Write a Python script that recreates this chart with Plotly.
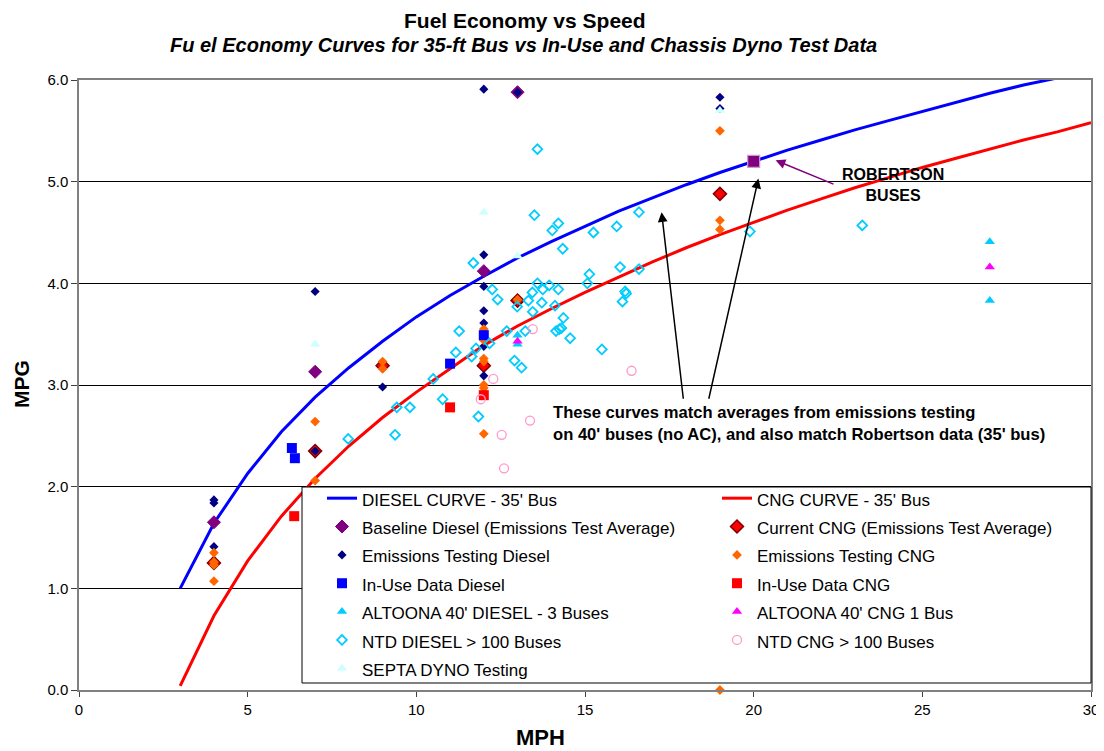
import plotly.graph_objects as go

# ---------------- data ----------------
CURVE_MPH = [3, 4, 5, 6, 7, 8, 9, 10, 11, 12, 13, 14, 15, 16, 17, 18, 19, 20,
             21, 22, 23, 24, 25, 26, 27, 28, 29, 30]
DIESEL_CURVE = [1.00, 1.64, 2.13, 2.54, 2.88, 3.17, 3.43, 3.67, 3.88, 4.07, 4.25,
                4.41, 4.56, 4.71, 4.84, 4.97, 5.09, 5.20, 5.31, 5.41, 5.51, 5.60,
                5.69, 5.78, 5.87, 5.95, 6.02, 6.10]
CNG_CURVE = [0.04, 0.73, 1.27, 1.71, 2.08, 2.40, 2.68, 2.93, 3.16, 3.39, 3.58,
             3.75, 3.91, 4.06, 4.21, 4.35, 4.48, 4.60, 4.72, 4.83, 4.94, 5.04,
             5.14, 5.23, 5.32, 5.41, 5.49, 5.58]

BASE_DSL_X = [4, 7, 12, 13]
BASE_DSL_Y = [1.65, 3.13, 4.12, 5.88]

CUR_CNG_X = [4, 7, 9, 12, 13, 19]
CUR_CNG_Y = [1.25, 2.35, 3.19, 3.19, 3.83, 4.88]

EM_DSL_X = [4, 4, 4, 7, 7, 9, 12, 12, 12, 12, 12, 12, 12, 13, 19, 19]
EM_DSL_Y = [1.87, 1.84, 1.41, 3.92, 2.35, 2.98, 5.91, 4.28, 3.97, 3.73, 3.61,
            3.38, 3.09, 5.88, 5.83, 5.72]

EM_CNG_X = [4, 4, 4, 4, 7, 7, 9, 9, 12, 12, 12, 12, 12, 12, 12, 13, 19, 19, 19, 19]
EM_CNG_Y = [1.35, 1.26, 1.23, 1.07, 2.64, 2.06, 3.23, 3.16, 3.55, 3.44, 3.26,
            3.23, 3.00, 2.97, 2.52, 3.84, 5.50, 4.62, 4.53, 0.00]

INUSE_DSL_X = [6.31, 6.40, 11.0, 12.0]
INUSE_DSL_Y = [2.38, 2.28, 3.21, 3.49]

INUSE_CNG_X = [6.38, 11.0, 12.0]
INUSE_CNG_Y = [1.71, 2.78, 2.90]

ALT_DSL_X = [13, 13, 27, 27]
ALT_DSL_Y = [3.49, 3.40, 4.41, 3.83]

ALT_CNG_X = [13, 27]
ALT_CNG_Y = [3.43, 4.16]

NTD_DSL_X = [7.98, 9.42, 9.37, 9.81, 10.50, 10.78, 11.17, 11.27, 11.64, 11.77,
             11.84, 11.69, 12.17, 12.25, 12.41, 12.68, 12.91, 12.99, 13.12, 13.23,
             13.32, 13.44, 13.45, 13.50, 13.59, 13.59, 13.72, 13.75, 13.94, 14.03,
             14.11, 14.14, 14.21, 14.21, 14.24, 14.30, 14.34, 14.36, 14.56, 15.07,
             15.13, 15.25, 15.50, 15.94, 16.04, 16.11, 16.19, 16.22, 16.60, 16.60,
             19.89, 23.22]
NTD_DSL_Y = [2.47, 2.78, 2.51, 2.78, 3.06, 2.86, 3.32, 3.53, 3.28, 3.36,
             2.69, 4.20, 3.41, 3.94, 3.84, 3.53, 3.24, 3.77, 3.17, 3.53,
             3.83, 3.91, 3.72, 4.67, 5.32, 4.00, 3.81, 3.94, 3.98, 4.52,
             3.78, 3.53, 4.59, 3.94, 3.55, 3.56, 4.34, 3.66, 3.46, 4.00,
             4.09, 4.50, 3.35, 4.56, 4.16, 3.82, 3.92, 3.90, 4.70, 4.14,
             4.51, 4.57]

NTD_CNG_X = [11.91, 12.28, 12.53, 12.60, 13.37, 13.45, 16.38]
NTD_CNG_Y = [2.86, 3.06, 2.51, 2.18, 2.65, 3.55, 3.14]

SEPTA_X = [7, 12, 13, 19]
SEPTA_Y = [3.40, 4.70, 4.27, 5.70]

ROBERTSON_X = [20]
ROBERTSON_Y = [5.20]

X_TICKS = [0, 5, 10, 15, 20, 25, 30]
Y_TICKS = [0, 1, 2, 3, 4, 5, 6]
Y_TICK_LABELS = ["0.0", "1.0", "2.0", "3.0", "4.0", "5.0", "6.0"]

FONT = "Arial, 'Liberation Sans', sans-serif"
LEG_TXT = '<span style="font-size:17px">{}</span>'

# page body has an 8px margin: plot area spans window px x 79..1091, y 80..690
OFF = 8
PL, PR, PT, PB = 79, 1091, 80, 690
PW, PH = PR - PL, PB - PT


def px(xw):
    return (xw - PL) / PW


def py(yw):
    return (PB - yw) / PH


fig = go.Figure()


def add_line(x, y, name, color):
    fig.add_trace(go.Scatter(x=x, y=y, mode="lines", name=LEG_TXT.format(name),
                             line=dict(color=color, width=3), cliponaxis=False))


def add_pts(x, y, name, symbol, size, color, line_color=None, line_width=0,
            showlegend=True):
    fig.add_trace(go.Scatter(
        x=x, y=y, mode="markers", name=LEG_TXT.format(name), showlegend=showlegend,
        cliponaxis=False,
        marker=dict(symbol=symbol, size=size, color=color,
                    line=dict(color=line_color or color, width=line_width))))


add_line(CURVE_MPH, DIESEL_CURVE, "DIESEL CURVE - 35' Bus", "#0000FF")
add_line(CURVE_MPH, CNG_CURVE, "CNG CURVE - 35' Bus", "#FF0000")
add_pts(BASE_DSL_X, BASE_DSL_Y, "Baseline Diesel (Emissions Test Average)",
        "diamond", 10, "#800080", "#800080", 1)
add_pts(CUR_CNG_X, CUR_CNG_Y, "Current CNG (Emissions Test Average)",
        "diamond", 10, "#FF0000", "#800000", 1.5)
add_pts(EM_DSL_X, EM_DSL_Y, "Emissions Testing Diesel",
        "diamond", 7, "#000080")
add_pts(EM_CNG_X, EM_CNG_Y, "Emissions Testing CNG",
        "diamond", 7.5, "#FF6600")
add_pts(INUSE_DSL_X, INUSE_DSL_Y, "In-Use Data Diesel",
        "square", 10, "#0000FF")
add_pts(INUSE_CNG_X, INUSE_CNG_Y, "In-Use Data CNG",
        "square", 10, "#FF0000")
add_pts(ALT_DSL_X, ALT_DSL_Y, "ALTOONA 40' DIESEL - 3 Buses",
        "triangle-up", 9, "#00CCFF")
add_pts(ALT_CNG_X, ALT_CNG_Y, "ALTOONA 40' CNG 1 Bus",
        "triangle-up", 9, "#FF00FF")
add_pts(NTD_DSL_X, NTD_DSL_Y, "NTD DIESEL > 100 Buses",
        "diamond-open", 7.5, "#00CCFF", "#00CCFF", 1.8)
add_pts(NTD_CNG_X, NTD_CNG_Y, "NTD CNG > 100 Buses",
        "circle-open", 9, "#FF99CC", "#FF99CC", 1.3)
add_pts(SEPTA_X, SEPTA_Y, "SEPTA DYNO Testing",
        "triangle-up", 9, "#CCFFFF")
add_pts(ROBERTSON_X, ROBERTSON_Y, "Robertson Buses",
        "square", 12, "#800080", "#CC99CC", 1.2, showlegend=False)

# ---------------- annotations ----------------
ann = []
ann.append(dict(text="<b>Fuel Economy vs Speed</b>", xref="paper", yref="paper",
                x=px(525), y=py(OFF + 0.5), xanchor="center", yanchor="top",
                borderpad=0,
                showarrow=False, font=dict(size=21, color="black", family=FONT)))
ann.append(dict(text="<b><i>Fu el Economy Curves for 35-ft Bus vs In-Use and Chassis Dyno Test Data</i></b>",
                xref="paper", yref="paper", x=px(523), y=py(45),
                xanchor="center", yanchor="middle", showarrow=False,
                font=dict(size=20, color="black", family=FONT)))
ann.append(dict(text="<b>MPH</b>", xref="paper", yref="paper",
                x=px(540), y=py(737),
                xanchor="center", yanchor="middle", showarrow=False,
                font=dict(size=22, color="black", family=FONT)))
ann.append(dict(text="<b>MPG</b>", xref="paper", yref="paper",
                x=px(21), y=py(384), textangle=-90,
                xanchor="center", yanchor="middle", showarrow=False,
                font=dict(size=21, color="black", family=FONT)))
ann.append(dict(text="<b>ROBERTSON<br>BUSES</b>", x=24.12, y=4.97,
                xanchor="center", yanchor="middle", showarrow=False, align="center",
                font=dict(size=16, color="black", family=FONT)))
ann.append(dict(text="<b>These curves match averages from emissions testing<br>"
                     "on 40' buses (no AC), and also match Robertson data (35' bus)</b>",
                x=14.0, y=2.62, xanchor="left", yanchor="middle", showarrow=False,
                align="left",
                font=dict(size=16.6, color="black", family=FONT)))
# arrows
ann.append(dict(x=20.65, y=5.21, ax=22.41, ay=4.97, xref="x", yref="y",
                axref="x", ayref="y", text="", showarrow=True, arrowhead=2,
                arrowsize=1.3, arrowwidth=1.5, arrowcolor="#800080"))
ann.append(dict(x=17.27, y=4.70, ax=17.92, ay=2.85, xref="x", yref="y",
                axref="x", ayref="y", text="", showarrow=True, arrowhead=2,
                arrowsize=1.3, arrowwidth=1.5, arrowcolor="black"))
ann.append(dict(x=20.14, y=5.03, ax=18.66, ay=2.85, xref="x", yref="y",
                axref="x", ayref="y", text="", showarrow=True, arrowhead=2,
                arrowsize=1.3, arrowwidth=1.5, arrowcolor="black"))

# legend frame (white box above the data, legend entries drawn on top)
legend_box = dict(type="rect", xref="paper", yref="paper",
                  x0=px(302), x1=px(1091), y0=py(683), y1=py(487),
                  fillcolor="white", line=dict(color="black", width=1),
                  layer="above")

fig.update_layout(
    width=1104 - OFF, height=751 - OFF,
    margin=dict(l=PL - OFF, r=1104 - PR, t=PT - OFF, b=751 - PB, autoexpand=False),
    paper_bgcolor="white", plot_bgcolor="white",
    font=dict(family=FONT, size=15, color="black"),
    annotations=ann,
    shapes=[legend_box],
    legend=dict(orientation="h", x=px(302), y=py(479),
                xanchor="left", yanchor="top",
                entrywidth=330, entrywidthmode="pixels", indentation=20,
                bgcolor="rgba(0,0,0,0)", borderwidth=0,
                font=dict(size=19.5, family=FONT, color="black"),
                traceorder="normal"),
    showlegend=True,
)
fig.update_xaxes(range=[0, 30], tickvals=X_TICKS, ticktext=[str(v) for v in X_TICKS],
                 showgrid=False, zeroline=False, showline=True, mirror=True,
                 linecolor="#808080", linewidth=1.5,
                 ticks="outside", ticklen=5, tickcolor="#404040",
                 tickfont=dict(size=15, family=FONT))
fig.update_yaxes(range=[0, 6], tickvals=Y_TICKS, ticktext=Y_TICK_LABELS,
                 showgrid=True, gridcolor="black", gridwidth=1, zeroline=False,
                 showline=True, mirror=True, linecolor="#808080", linewidth=1.5,
                 ticks="outside", ticklen=6, tickcolor="#404040",
                 tickfont=dict(size=15, family=FONT))

fig.write_html("out.html")
